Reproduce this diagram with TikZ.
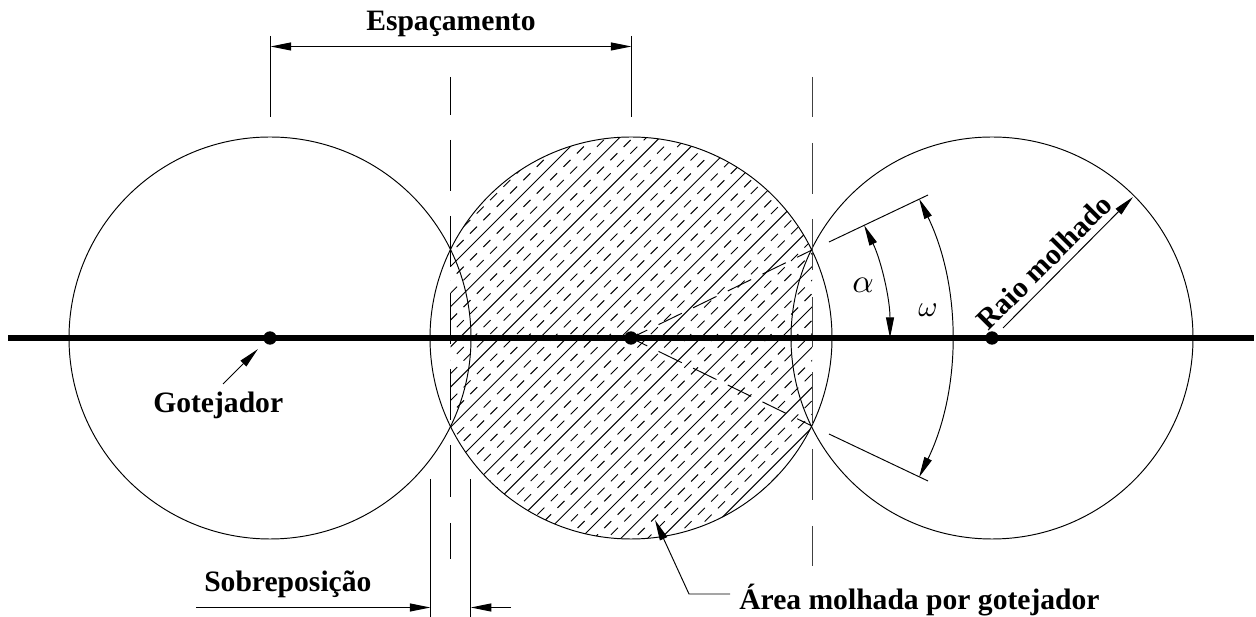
\documentclass[tikz,border=0pt]{standalone}
\usepackage{fontspec}
\setmainfont{Liberation Serif}
\usetikzlibrary{arrows.meta,calc}
\tikzset{
  thinline/.style={line width=0.72pt,black},
  dimline/.style={thinline,{Triangle[length=15.5pt,width=6pt]}-{Triangle[length=15.5pt,width=6pt]}},
  leader/.style={thinline,-{Triangle[length=15.5pt,width=6pt]}},
  axisline/.style={line width=4.6pt,black},
  dot/.style={circle,fill=black,inner sep=0pt,minimum size=10pt},
  lbl/.style={font=\fontsize{22.2pt}{24pt}\selectfont\bfseries,inner sep=0pt},
  alphastyle/.style={inner sep=0pt,scale=2.5},
  omegastyle/.style={inner sep=0pt,scale=2.2},
  hatchsolid/.style={line width=0.7pt,black},
  hatchdash/.style={line width=0.7pt,black,dash pattern=on 7.42pt off 6.74pt},
  centerdash/.style={thinline,dash pattern=on 19.5pt off 9.4pt,dash phase=6pt}
}
\begin{document}
\begin{tikzpicture}[x=0.75pt,y=0.75pt]
\useasboundingbox (0,0) rectangle (1256,617);
\fill[white] (0,0) rectangle (1256,617);
\coordinate (c1) at (270,279);
\coordinate (c2) at (631,279);
\coordinate (c3) at (992,279);

% hatching of the wetted area
\begin{scope}
  \clip (450.5,0) rectangle (812,617);
  \clip (c2) circle[radius=201];
  \foreach \k in {-1,...,13}{
    \pgfmathsetmacro{\c}{717+40.2*\k}
    \draw[hatchsolid] ({(\c+800)/2},{617-(\c-800)/2}) -- ({(\c-800)/2},{617-(\c+800)/2});
    \foreach \r in {13.4,26.8}{
      \pgfmathsetmacro{\cc}{\c+\r}
      \draw[hatchdash] ({(\cc-137.4)/2},{617-(\cc+137.4)/2}) -- ({(\cc+730)/2},{617-(\cc-730)/2});
    }
  }
\end{scope}

% circles
\draw[thinline] (c1) circle[radius=201];
\draw[thinline] (c2) circle[radius=201];
\draw[thinline] (c3) circle[radius=201];

% vertical dashed lines
\foreach \a/\b in {77/115,140/191,216/267,293/344,369/420,445/497,523/559}
  \draw[thinline] (450.5,617-\a) -- (450.5,617-\b);
\foreach \a/\b in {77/117,143/194,219/270,297/347,372/423,449/500,526/566}
  \draw[thinline,black!75] (812,617-\a) -- (812,617-\b);

% dashed rays and angle limits
\coordinate (iu) at (812,367);
\coordinate (il) at (812,191);
\draw[centerdash] (c2) -- (iu);
\draw[centerdash] (c2) -- (il);
\coordinate (ua) at (829,375);
\coordinate (ub) at (928,422);
\coordinate (la) at (829,183);
\coordinate (lb) at (928,136);
\draw[thinline] (ua) -- (ub);
\draw[thinline] (la) -- (lb);

% angle arcs
\draw[dimline] ($(c2)+(25.8:259)$) arc[start angle=25.8,end angle=0,radius=259];
\draw[dimline] ($(c2)+(25.8:320)$) arc[start angle=25.8,end angle=-25.8,radius=320];
\node[alphastyle] (alpha) at (863,332) {$\alpha$};
\node[omegastyle] (omega) at (928,307) {$\omega$};

% main line and emitters
\coordinate (axL) at (8,279);
\coordinate (axR) at (1254,279);
\draw[axisline] (axL) -- (axR);
\node[dot] (g1) at (c1) {};
\node[dot] (g2) at (c2) {};
\node[dot] (g3) at (c3) {};

% spacing dimension
\coordinate (e1t) at (270.5,581);
\coordinate (e1b) at (270.5,500);
\coordinate (e2t) at (631.5,581);
\coordinate (e2b) at (631.5,500);
\coordinate (e1m) at (270.5,570.5);
\coordinate (e2m) at (631.5,570.5);
\draw[thinline] (e1t) -- (e1b);
\draw[thinline] (e2t) -- (e2b);
\draw[dimline] (e1m) -- (e2m);
\node[lbl,anchor=base west] (esp) at (366,586) {Espaçamento};

% overlap dimension
\coordinate (s1t) at (430.5,138);
\coordinate (s1b) at (430.5,0);
\coordinate (s2t) at (470.7,138);
\coordinate (s2b) at (470.7,0);
\coordinate (sL) at (196,9.5);
\coordinate (sA) at (430.5,9.5);
\coordinate (sB) at (470.7,9.5);
\coordinate (sR) at (511,9.5);
\draw[thinline] (s1t) -- (s1b);
\draw[thinline] (s2t) -- (s2b);
\draw[leader] (sL) -- (sA);
\draw[leader] (sR) -- (sB);
\node[lbl,anchor=base west] (sob) at (204,25) {Sobreposição};

% emitter label
\node[lbl,anchor=base west] (got) at (153,204) {Gotejador};
\coordinate (gs) at (223,233);
\coordinate (gt) at (258,268);
\draw[leader] (gs) -- (gt);

% radius
\coordinate (rs) at (1003,289);
\coordinate (rt) at (1133,420);
\draw[leader] (rs) -- (rt);
\node[lbl,rotate=45] (raio) at (1044,355) {Raio molhado};

% wetted area label
\coordinate (a1) at (730,23);
\coordinate (a2) at (689,23);
\coordinate (a3) at (655,97);
\draw[leader] (a1) -- (a2) -- (a3);
\node[lbl,anchor=base west] (area) at (739,7) {Área molhada por gotejador};
\end{tikzpicture}
\end{document}
